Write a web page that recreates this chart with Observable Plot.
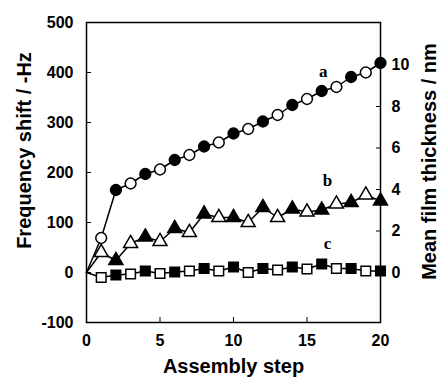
<!DOCTYPE html>
<html><head>
<meta charset="utf-8">
<script src="https://cdn.jsdelivr.net/npm/d3@7"></script>
<script src="https://cdn.jsdelivr.net/npm/@observablehq/plot@0.6"></script>
<style>body{margin:0;background:#fff}</style>
</head><body><div id="chart"></div>
<script>
const steps   = [0,1,2,3,4,5,6,7,8,9,10,11,12,13,14,15,16,17,18,19,20];
const seriesA = [0,69,165,178,197,206,225,235,252,260,278,287,302,315,335,347,363,371,391,400,419];
const seriesB = [0,40,24,58,71,62,88,80,117,110,110,100,130,110,127,121,125,137,140,155,143];
const seriesC = [0,-10,-5,-3,3,-2,1,3,8,3,11,0,8,5,11,7,17,8,8,3,3];
const xTicks = [0,5,10,15,20];
const yTicks = [-100,0,100,200,300,400,500];
const nmTicks = [0,2,4,6,8,10];
const HZ_PER_NM = 41.5;
const labelNames = ["a","b","c"];
const labelX = [16.1,16.4,16.4];
const labelY = [402,183,57];

const rows = steps.map((s,i)=>({step:s, a:seriesA[i], b:seriesB[i], c:seriesC[i]}));
const pts = rows.filter(d=>d.step>0);
const fillFn = d => d.step % 2 === 0 ? "black" : "white";

const chart = Plot.plot({
  width: 441, height: 382,
  marginLeft: 86, marginRight: 61, marginTop: 22, marginBottom: 60,
  x: {domain:[0,20]},
  y: {domain:[-100,500]},
  style: {fontFamily: "'Liberation Sans', Arial, sans-serif", fontWeight: "bold", fontSize: "16px", color: "black", background: "white"},
  marks: [
    Plot.frame({stroke:"black", strokeWidth:1.5}),
    Plot.axisX({ticks: xTicks, tickSize: -5, tickPadding: 17, label: null, tickFormat: d=>d}),
    Plot.axisY({ticks: yTicks, tickSize: -5, tickPadding: 18, label: null, tickFormat: d=>d}),
    Plot.axisY({anchor:"right", ticks: nmTicks.map(n=>n*HZ_PER_NM), tickSize: -5, tickPadding: 16, label: null, tickFormat: d=>Math.round(d/HZ_PER_NM)}),
    Plot.text(["Assembly step"], {frameAnchor:"bottom", dy: 50, fontSize: 20}),
    Plot.text(["Frequency shift / -Hz"], {frameAnchor:"left", textAnchor:"middle", rotate:-90, dx:-62, dy:-22, fontSize: 20}),
    Plot.text(["Mean film thickness / nm"], {frameAnchor:"right", textAnchor:"middle", rotate:-90, dx:49, dy:-11, fontSize: 20}),
    Plot.line(rows, {x:"step", y:"a", stroke:"black", strokeWidth:1.5}),
    Plot.line(rows, {x:"step", y:"b", stroke:"black", strokeWidth:1.5}),
    Plot.line(rows, {x:"step", y:"c", stroke:"black", strokeWidth:1.5}),
    Plot.dot(pts, {x:"step", y:"a", symbol:"circle", r:5.4, fill: fillFn, stroke:"black", strokeWidth:1.5}),
    Plot.dot(pts, {x:"step", y:"b", symbol:"triangle", r:5.2, fill: fillFn, stroke:"black", strokeWidth:1.5}),
    Plot.dot(pts, {x:"step", y:"c", symbol:"square", r:5.4, fill: fillFn, stroke:"black", strokeWidth:1.5}),
    Plot.text(labelNames, {x: (d,i)=>labelX[i], y: (d,i)=>labelY[i], text: d=>d, fontFamily:"'Liberation Serif', serif", fontSize: 17, fontWeight:"bold"})
  ]
});
document.getElementById("chart").appendChild(chart);
</script>
</body></html>
